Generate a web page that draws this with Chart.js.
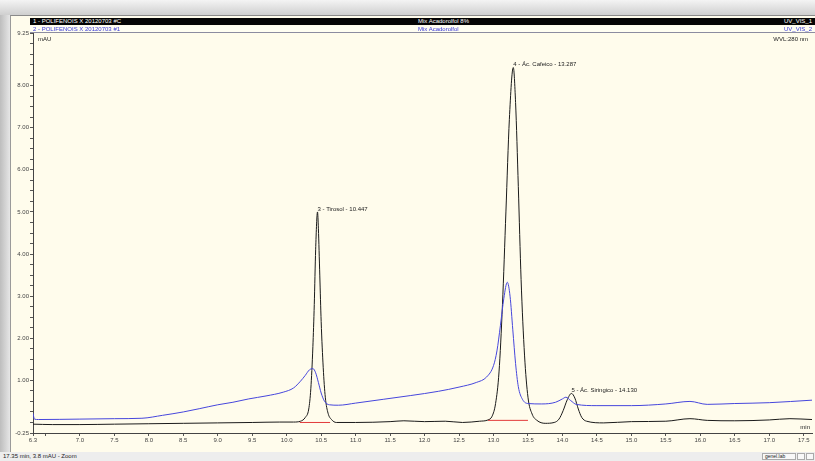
<!DOCTYPE html>
<html>
<head>
<meta charset="utf-8">
<script src="https://cdn.jsdelivr.net/npm/chart.js@4.4.0/dist/chart.umd.min.js"></script>
<style>
  body { margin: 0; width: 815px; height: 461px; overflow: hidden; background: #d8d8d8; font-family: "Liberation Sans", Arial, sans-serif; position: relative; }
  #topbar { position: absolute; left: 0; top: 0; width: 815px; height: 15px; background: linear-gradient(#f4f4f4, #cfcfcf); }
  #leftbar { position: absolute; left: 0; top: 15px; width: 10px; height: 446px; background: linear-gradient(to right, #bdbdbd, #e6e6e6); }
  #panel { position: absolute; left: 10px; top: 15px; width: 805px; height: 437px; background: #fffcec; border-top: 1px solid #8a8a8a; border-left: 1px solid #9a9a9a; box-sizing: border-box; }
  #status { position: absolute; left: 0; top: 452px; width: 815px; height: 9px; background: #ededed; font-size: 6px; line-height: 9px; color: #222; }
  #status span { position: absolute; left: 3px; }
  #status .box { position: absolute; top: 1px; height: 7px; border: 1px solid #aaa; box-sizing: border-box; background: #f8f8f8; font-size: 5px; line-height: 5px; padding-left: 2px; }
  canvas { position: absolute; left: 0; top: 0; }
  .hdr { position: absolute; left: 30px; width: 785px; font-size: 6px; white-space: nowrap; }
  #row1 { top: 18px; height: 7px; line-height: 7px; background: #050505; color: #fff; }
  #row2 { top: 26px; height: 6px; line-height: 6px; background: #fffef2; color: #3a3ad8; border-bottom: 1px solid #8c8ca0; }
  .hdr .l { position: absolute; left: 3px; }
  .hdr .c { position: absolute; left: 388px; }
  .hdr .r { position: absolute; right: 3px; }
</style>
</head>
<body>
<div id="topbar"></div>
<div id="leftbar"></div>
<div id="panel"></div>
<canvas id="chromChart" width="815" height="461"></canvas>
<div id="row1" class="hdr"><span class="l">1 - POLIFENOIS X 20120703 #C</span><span class="c">Mix Acadorolfol 8%</span><span class="r">UV_VIS_1</span></div>
<div id="row2" class="hdr"><span class="l">2 - POLIFENOIS X 20120703 #1</span><span class="c">Mix Acadorolfol</span><span class="r">UV_VIS_2</span></div>
<div id="status"><span>17.35 min, 3.8 mAU - Zoom</span><div class="box" style="left:762px;width:34px;">genel.lab</div><div class="box" style="left:797px;width:8px;"></div><div class="box" style="left:806px;width:8px;"></div></div>
<script>
// Trace 1 (noir) - UV_VIS_1
const blackTime = [6.32, 6.6, 7.0, 7.5, 8.0, 8.5, 9.0, 9.5, 9.9, 10.1, 10.2, 10.27, 10.32, 10.35, 10.38, 10.4, 10.42, 10.447, 10.46, 10.48, 10.5, 10.53, 10.56, 10.6, 10.65, 10.72, 11.0, 11.5, 11.7, 12.0, 12.3, 12.55, 12.8, 12.92, 12.98, 13.03, 13.08, 13.13, 13.18, 13.23, 13.287, 13.32, 13.36, 13.4, 13.45, 13.5, 13.56, 13.63, 13.75, 13.88, 13.95, 14.01, 14.07, 14.13, 14.18, 14.23, 14.28, 14.35, 14.6, 15.0, 15.5, 15.85, 16.1, 16.5, 17.0, 17.3, 17.62];
const blackValue = [-0.04, -0.05, -0.05, -0.04, -0.03, -0.02, -0.01, 0.0, 0.01, 0.01, 0.03, 0.12, 0.32, 0.8, 1.8, 2.8, 4.1, 5.0, 4.6, 3.5, 2.4, 1.3, 0.6, 0.22, 0.07, 0.0, 0.0, 0.02, 0.04, 0.02, 0.03, 0.0, 0.03, 0.06, 0.15, 0.45, 1.2, 2.8, 5.0, 7.2, 8.43, 7.6, 5.6, 3.4, 1.6, 0.6, 0.2, 0.05, -0.02, 0.0, 0.08, 0.28, 0.54, 0.69, 0.58, 0.32, 0.12, 0.03, -0.01, 0.02, 0.03, 0.09, 0.05, 0.04, 0.06, 0.09, 0.07];

// Trace 2 (bleu) - UV_VIS_2
const blueTime = [6.32, 6.34, 6.4, 7.0, 7.5, 7.9, 8.2, 8.5, 8.74, 9.0, 9.22, 9.45, 9.7, 9.95, 10.1, 10.2, 10.27, 10.33, 10.38, 10.42, 10.46, 10.5, 10.55, 10.62, 10.75, 11.0, 11.4, 11.8, 12.2, 12.5, 12.75, 12.9, 13.0, 13.05, 13.1, 13.15, 13.2, 13.24, 13.28, 13.32, 13.36, 13.42, 13.5, 13.7, 13.9, 14.0, 14.05, 14.12, 14.2, 14.5, 15.0, 15.5, 15.85, 16.1, 16.5, 17.0, 17.62];
const blueValue = [0.22, 0.08, 0.07, 0.08, 0.09, 0.1, 0.17, 0.25, 0.33, 0.42, 0.48, 0.56, 0.63, 0.72, 0.82, 0.98, 1.12, 1.25, 1.28, 1.18, 0.95, 0.7, 0.5, 0.42, 0.41, 0.46, 0.55, 0.64, 0.74, 0.84, 0.95, 1.08, 1.35, 1.7, 2.3, 2.95, 3.33, 3.0, 2.2, 1.4, 0.85, 0.55, 0.45, 0.44, 0.48, 0.56, 0.6, 0.52, 0.43, 0.4, 0.4, 0.44, 0.5, 0.43, 0.45, 0.47, 0.53];

// Lignes de base d'intégration (rouge)
const baseTirosolTime = [10.19, 10.63];
const baseTirosolValue = [0.0, 0.0];
const baseCafeicoTime = [12.92, 13.5];
const baseCafeicoValue = [0.05, 0.05];

// Pics identifiés
const peakNames = ['3 - Tirosol - 10.447', '4 - Ác. Cafeico - 13.287', '5 - Ác. Siringico - 14.130'];
const peakTime = [10.447, 13.287, 14.13];
const peakValue = [5.0, 8.43, 0.69];

// Axes
const xMin = 6.32;
const xMax = 17.62;
const xTicks = [6.32, 6.5, 7.0, 7.5, 8.0, 8.5, 9.0, 9.5, 10.0, 10.5, 11.0, 11.5, 12.0, 12.5, 13.0, 13.5, 14.0, 14.5, 15.0, 15.5, 16.0, 16.5, 17.0, 17.5];
const yMin = -0.25;
const yMax = 9.25;
const yLabels = [-0.25, 1, 2, 3, 4, 5, 6, 7, 8, 9.25];

function toPoints(t, v) {
    return t.map((x, i) => ({ x: x, y: v[i] }));
}

const yTicks = [];
for (let v = yMin; v <= yMax + 0.001; v += 0.25) yTicks.push(v);

const annotPlugin = {
    id: 'annot',
    afterDatasetsDraw(chart) {
        const ctx = chart.ctx;
        const xs = chart.scales.x, ys = chart.scales.y;
        const a = chart.chartArea;
        ctx.save();
        ctx.font = '6px "Liberation Sans", Arial, sans-serif';
        ctx.fillStyle = '#222';
        ctx.textBaseline = 'bottom';
        ctx.textAlign = 'left';
        peakNames.forEach((n, i) => {
            const px = xs.getPixelForValue(peakTime[i]);
            const py = ys.getPixelForValue(peakValue[i]);
            ctx.fillText(n, px, py);
        });
        ctx.textBaseline = 'top';
        ctx.fillText('mAU', a.left + 5, a.top + 3);
        ctx.textAlign = 'right';
        ctx.fillText('WVL:280 nm', a.right - 4, a.top + 3);
        ctx.textBaseline = 'bottom';
        ctx.fillText('min', a.right - 2, a.bottom - 3);
        ctx.restore();
    }
};

new Chart(document.getElementById('chromChart'), {
    type: 'line',
    data: {
        datasets: [
            { data: toPoints(blueTime, blueValue), borderColor: '#4646dc', borderWidth: 1, pointRadius: 0, cubicInterpolationMode: 'monotone' },
            { data: toPoints(baseTirosolTime, baseTirosolValue), borderColor: '#e23a3a', borderWidth: 1, pointRadius: 0 },
            { data: toPoints(baseCafeicoTime, baseCafeicoValue), borderColor: '#e23a3a', borderWidth: 1, pointRadius: 0 },
            { data: toPoints(blackTime, blackValue), borderColor: '#1a1a1a', borderWidth: 1, pointRadius: 0, cubicInterpolationMode: 'monotone' }
        ]
    },
    options: {
        responsive: false,
        animation: false,
        events: [],
        layout: { padding: { left: 10, top: 33, right: 3, bottom: 16 } },
        plugins: { legend: { display: false }, tooltip: { enabled: false } },
        scales: {
            x: {
                type: 'linear',
                min: xMin,
                max: xMax,
                afterBuildTicks: s => { s.ticks = xTicks.map(v => ({ value: v })); },
                afterFit: s => { s.height = 12; s.paddingLeft = 0; s.paddingRight = 0; },
                ticks: {
                    autoSkip: false, maxRotation: 0, padding: 1,
                    font: { size: 6, family: 'Liberation Sans' }, color: '#444',
                    callback: v => v === xMin ? '6.3' : (v === 6.5 ? '' : v.toFixed(1))
                },
                grid: { drawOnChartArea: false, tickLength: 3, color: '#555' },
                border: { color: '#444' }
            },
            y: {
                type: 'linear',
                min: yMin,
                max: yMax,
                afterBuildTicks: s => { s.ticks = yTicks.map(v => ({ value: v })); },
                afterFit: s => { s.width = 23; s.paddingTop = 0; s.paddingBottom = 0; },
                ticks: {
                    autoSkip: false, padding: 1,
                    font: { size: 6, family: 'Liberation Sans' }, color: '#444',
                    callback: v => yLabels.includes(v) ? v.toFixed(2) : ''
                },
                grid: { drawOnChartArea: false, tickLength: 3, color: '#555' },
                border: { color: '#444' }
            }
        }
    },
    plugins: [annotPlugin]
});
</script>
</body>
</html>
